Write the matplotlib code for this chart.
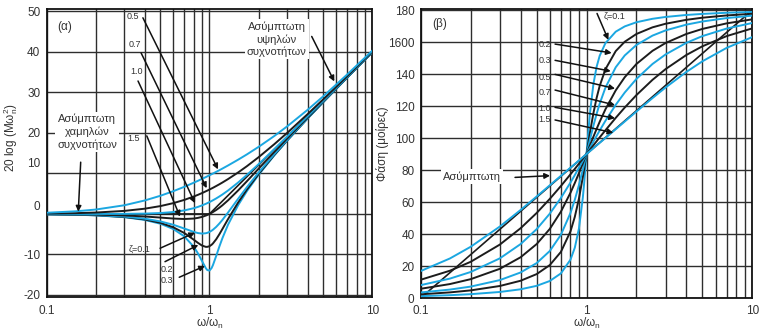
import matplotlib
matplotlib.use("Agg")
import matplotlib.pyplot as plt
import matplotlib.transforms as mtransforms
from matplotlib.ticker import FixedLocator, LogLocator, NullFormatter

# frequency ratio w/wn where the curves were read
r_vals = [0.1, 0.15, 0.2, 0.3, 0.4, 0.5, 0.6, 0.7, 0.8, 0.85, 0.9, 0.95, 0.97, 1.0,
          1.03, 1.05, 1.1, 1.15, 1.2, 1.3, 1.5, 1.7, 2.0, 2.5, 3.0, 4.0, 5.0, 7.0, 10.0]

zeta_labels = ["0.1", "0.2", "0.3", "0.5", "0.7", "1.0", "1.5"]

# (a) magnitude, dB
mag_z01 = [-0.09, -0.19, -0.35, -0.80, -1.48, -2.42, -3.73, -5.53, -8.09, -9.75, -11.64, -13.41, -13.86, -13.98,
           -13.36, -12.63, -10.34, -8.04, -6.00, -2.65, 2.18, 5.67, 9.62, 14.44, 18.09, 23.53, 27.61, 33.63, 39.91]
mag_z02 = [-0.08, -0.18, -0.32, -0.74, -1.36, -2.20, -3.31, -4.70, -6.35, -7.15, -7.81, -8.13, -8.12, -7.96,
           -7.61, -7.28, -6.24, -5.01, -3.73, -1.27, 2.84, 6.06, 9.84, 14.56, 18.16, 23.57, 27.63, 33.64, 39.92]
mag_z03 = [-0.07, -0.16, -0.29, -0.65, -1.17, -1.85, -2.68, -3.60, -4.44, -4.72, -4.85, -4.76, -4.66, -4.44,
           -4.14, -3.90, -3.19, -2.36, -1.48, 0.35, 3.75, 6.64, 10.19, 14.74, 18.28, 23.63, 27.67, 33.66, 39.93]
mag_z05 = [-0.04, -0.10, -0.17, -0.37, -0.63, -0.90, -1.14, -1.25, -1.14, -0.97, -0.73, -0.40, -0.25, 0.00,
           0.27, 0.47, 0.98, 1.54, 2.13, 3.36, 5.81, 8.10, 11.14, 15.29, 18.63, 23.82, 27.79, 33.72, 39.96]
mag_z07 = [0.00, 0.00, 0.00, 0.02, 0.08, 0.22, 0.47, 0.87, 1.41, 1.74, 2.11, 2.50, 2.67, 2.92,
           3.19, 3.37, 3.83, 4.31, 4.79, 5.78, 7.76, 9.66, 12.26, 16.00, 19.12, 24.09, 27.96, 33.80, 40.00]
mag_z10 = [0.09, 0.19, 0.34, 0.75, 1.29, 1.94, 2.67, 3.46, 4.30, 4.72, 5.15, 5.59, 5.76, 6.02,
           6.28, 6.45, 6.89, 7.32, 7.75, 8.60, 10.24, 11.80, 13.98, 17.21, 20.00, 24.61, 28.30, 33.98, 40.09]
mag_z15 = [0.29, 0.64, 1.08, 2.14, 3.32, 4.49, 5.62, 6.69, 7.70, 8.18, 8.65, 9.10, 9.28, 9.54,
           9.80, 9.97, 10.39, 10.79, 11.19, 11.96, 13.39, 14.71, 16.53, 19.23, 21.61, 25.67, 29.04, 34.39, 40.29]

# (b) phase, degrees
ph_z01 = [1.16, 1.76, 2.39, 3.77, 5.44, 7.60, 10.62, 15.35, 23.96, 31.49, 43.45, 62.83, 73.06, 90.0,
          106.47, 116.02, 133.67, 144.50, 151.39, 159.35, 166.50, 169.80, 172.41, 174.56, 175.71, 176.95, 177.61, 178.33, 178.84]
ph_z02 = [2.31, 3.51, 4.76, 7.51, 10.78, 14.93, 20.56, 28.77, 41.63, 50.78, 62.17, 75.61, 81.34, 90.0,
          98.41, 103.72, 115.51, 125.03, 132.51, 143.00, 154.36, 160.21, 165.07, 169.22, 171.47, 173.91, 175.24, 176.66, 177.69]
ph_z03 = [3.47, 5.26, 7.13, 11.19, 15.95, 21.80, 29.36, 39.47, 53.13, 61.45, 70.62, 80.29, 84.20, 90.0,
          95.63, 99.24, 107.65, 115.05, 121.43, 131.50, 144.25, 151.64, 158.20, 164.05, 167.32, 170.91, 172.87, 175.00, 176.53]
ph_z05 = [5.77, 8.72, 11.77, 18.25, 25.46, 33.69, 43.15, 53.92, 65.77, 71.92, 78.08, 84.14, 86.51, 90.0,
          93.38, 95.58, 100.81, 105.66, 110.14, 117.96, 129.81, 138.03, 146.31, 154.54, 159.44, 165.07, 168.23, 171.70, 174.23]
ph_z07 = [8.05, 12.13, 16.26, 24.78, 33.69, 43.03, 52.70, 62.51, 72.18, 76.87, 81.43, 85.81, 87.51, 90.0,
          92.42, 93.99, 97.76, 101.33, 104.68, 110.77, 120.76, 128.45, 136.97, 146.31, 152.30, 159.53, 163.74, 168.46, 171.95]
ph_z10 = [11.42, 17.06, 22.62, 33.40, 43.60, 53.13, 61.93, 69.98, 77.32, 80.73, 83.97, 87.06, 88.26, 90.0,
          91.69, 92.79, 95.45, 97.98, 100.39, 104.86, 112.62, 119.07, 126.87, 136.40, 143.13, 151.93, 157.38, 163.74, 168.58]
ph_z15 = [16.86, 24.72, 32.01, 44.68, 55.01, 63.43, 70.43, 76.35, 81.47, 83.79, 85.97, 88.04, 88.84, 90.0,
          91.13, 91.86, 93.64, 95.34, 96.97, 100.03, 105.52, 110.33, 116.57, 124.99, 131.63, 141.34, 147.99, 156.37, 163.14]

# straight-line asymptotes
asym_mag_r = [0.1, 1.0, 10.0]
asym_mag_db = [0.0, 0.0, 40.0]
asym_ph_r = [0.1, 10.0]
asym_ph_deg = [0.0, 180.0]

mag_curves = [mag_z01, mag_z02, mag_z03, mag_z05, mag_z07, mag_z10, mag_z15]
ph_curves = [ph_z01, ph_z02, ph_z03, ph_z05, ph_z07, ph_z10, ph_z15]

CYAN = "#1ba7e1"
DARK = "#1c1c1c"
GRID = "#2e2e2e"
TXT = "#333333"
colors = [CYAN, DARK, CYAN, DARK, CYAN, DARK, CYAN]

plt.rcParams["font.family"] = ["Liberation Sans", "DejaVu Sans"]
plt.rcParams["mathtext.fontset"] = "custom"
plt.rcParams["mathtext.rm"] = "Liberation Sans"
plt.rcParams["mathtext.it"] = "Liberation Sans"

fig = plt.figure(figsize=(7.6, 3.33), dpi=100)
ax1 = fig.add_axes([0.0614, 0.1081, 0.4285, 0.8640])
ax2 = fig.add_axes([0.5536, 0.1051, 0.4363, 0.8670])


def style_axis(ax, yticks, ylabels, ylim, xpad=6):
    ax.set_xscale("log")
    ax.set_xlim(0.1, 10)
    ax.set_ylim(*ylim)
    ax.xaxis.set_major_locator(FixedLocator([0.1, 1, 10]))
    ax.set_xticklabels(["0.1", "1", "10"])
    ax.xaxis.set_minor_locator(LogLocator(base=10, subs=range(2, 10)))
    ax.xaxis.set_minor_formatter(NullFormatter())
    ax.yaxis.set_major_locator(FixedLocator(yticks))
    ax.set_yticklabels(ylabels)
    ax.grid(True, which="both", axis="x", color=GRID, lw=1.0)
    ax.grid(True, which="major", axis="y", color=GRID, lw=1.0)
    ax.tick_params(which="both", length=0, labelsize=8.5, labelcolor=TXT)
    ax.tick_params(axis="y", pad=4.5)
    ax.tick_params(axis="x", pad=xpad)
    for sp in ax.spines.values():
        sp.set_color("#111111")
        sp.set_linewidth(1.3)
    ax.set_axisbelow(True)


def note(ax, label, text_xy, tail_xy, head_xy, size=6.5, box=False):
    kw = dict(ha="center", va="center", fontsize=size, color=TXT, zorder=6)
    if box:
        kw["bbox"] = dict(facecolor="white", edgecolor="none", pad=1.5)
        kw["linespacing"] = 1.25
    ax.text(text_xy[0], text_xy[1], label, **kw)
    ax.annotate("", xy=head_xy, xytext=tail_xy, zorder=7,
                arrowprops=dict(arrowstyle="-|>", color="#111111", lw=1.1,
                                mutation_scale=8, shrinkA=0, shrinkB=0))


# ---- (a) magnitude ----
style_axis(ax1, list(range(-20, 51, 10)), [str(v) for v in range(-20, 51, 10)], (-20.5, 50.5))
ax1.plot(asym_mag_r, asym_mag_db, color=DARK, lw=1.2, zorder=3)
for ys, c in zip(mag_curves, colors):
    ax1.plot(r_vals, ys, color=c, lw=1.4, zorder=4)

# the original figure prints "10" and "0" a little above their grid lines
for tick in ax1.yaxis.get_major_ticks():
    if tick.label1.get_text() in ("10", "0"):
        dy = 11 if tick.label1.get_text() == "10" else 8
        tick.label1.set_transform(tick.label1.get_transform() +
                                  mtransforms.ScaledTranslation(0, dy / 100, fig.dpi_scale_trans))

ax1.set_ylabel("20 log (Mω$_{\\rm n}^{2}$)", fontsize=8.5, color=TXT)
ax1.yaxis.set_label_coords(-0.082, 0.553)
ax1.set_xlabel("ω/ω$_{\\rm n}$", fontsize=8.5, color=TXT)
ax1.xaxis.set_label_coords(0.5, -0.066)
ax1.text(0.056, 0.9385, "(α)", transform=ax1.transAxes, fontsize=8.5, color=TXT,
         ha="center", va="center")

note(ax1, "0.5", (0.339, 48.6), (0.390, 48.4), (1.128, 11.0))
note(ax1, "0.7", (0.349, 41.7), (0.380, 39.75), (0.961, 6.35))
note(ax1, "1.0", (0.359, 35.1), (0.364, 32.8), (0.815, 2.64))
note(ax1, "1.5", (0.344, 18.5), (0.412, 19.26), (0.659, -0.67))
note(ax1, "ζ=0.1", (0.374, -8.64), (0.497, -8.47), (0.815, -4.62))
note(ax1, "0.2", (0.546, -13.8), (0.533, -11.78), (0.854, -7.65))
note(ax1, "0.3", (0.546, -16.47), (0.652, -15.63), (0.938, -12.84))
note(ax1, "Ασύμπτωτη\nχαμηλών\nσυχνοτήτων", (0.1768, 20.25), (0.1618, 12.77), (0.1564, 0.57),
     size=8, box=True)
note(ax1, "Ασύμπτωτη\nυψηλών\nσυχνοτήτων", (2.587, 43.1), (4.244, 43.8), (5.842, 32.7),
     size=8, box=True)

# ---- (b) phase ----
style_axis(ax2, list(range(0, 181, 20)),
           ["0", "20", "40", "60", "80", "100", "120", "140", "1600", "180"], (0, 180.5), xpad=5)
ax2.plot(asym_ph_r, asym_ph_deg, color=DARK, lw=1.2, zorder=3)
for ys, c in zip(ph_curves, colors):
    ax2.plot(r_vals, ys, color=c, lw=1.4, zorder=4)

ax2.set_ylabel("Φάση (μοίρες)", fontsize=8.5, color=TXT)
ax2.yaxis.set_label_coords(-0.095, 0.535)
ax2.set_xlabel("ω/ω$_{\\rm n}$", fontsize=8.5, color=TXT)
ax2.xaxis.set_label_coords(0.5, -0.062)
ax2.text(0.058, 0.9496, "(β)", transform=ax2.transAxes, fontsize=8.5, color=TXT,
         ha="center", va="center")

note(ax2, "ζ=0.1", (1.465, 176.2), (1.157, 177.9), (1.354, 161.4))
note(ax2, "0.2", (0.562, 158.8), (0.646, 158.75), (1.419, 153.2))
note(ax2, "0.3", (0.562, 148.6), (0.646, 148.6), (1.40, 141.8))
note(ax2, "0.5", (0.562, 138.1), (0.646, 139.8), (1.486, 130.9))
note(ax2, "0.7", (0.562, 128.4), (0.646, 130.0), (1.486, 120.6))
note(ax2, "1.0", (0.562, 118.7), (0.646, 119.2), (1.486, 112.4))
note(ax2, "1.5", (0.562, 111.3), (0.646, 111.3), (1.451, 103.3))
note(ax2, "Ασύμπτωτη", (0.2039, 76.1), (0.3705, 75.4), (0.6025, 76.5), size=8, box=True)

fig.savefig("out.png", dpi=100)
